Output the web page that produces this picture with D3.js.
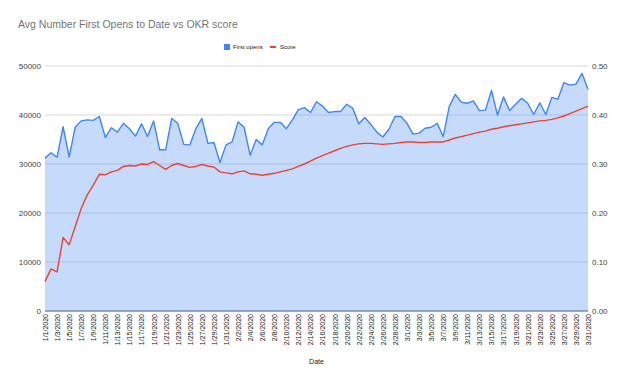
<!DOCTYPE html>
<html>
<head>
<meta charset="utf-8">
<script src="https://cdn.jsdelivr.net/npm/d3@7"></script>
<style>
  body { margin: 0; background: #fff; }
  svg { display: block; font-family: "Liberation Sans", Arial, sans-serif; }
</style>
</head>
<body>
<svg id="chart" width="631" height="378"></svg>
<script>
const SVG_WIDTH = 631;
const SVG_HEIGHT = 378;
const MARGIN = { left: 45, right: 43, top: 66, bottom: 67 };
const CHART_WIDTH = SVG_WIDTH - MARGIN.left - MARGIN.right;
const CHART_HEIGHT = SVG_HEIGHT - MARGIN.top - MARGIN.bottom;

// daily dates 1/1/2020 .. 3/31/2020
const START_DATE = new Date(2020, 0, 1);
const END_DATE = new Date(2020, 3, 1);
const dates = d3.timeDay.range(START_DATE, END_DATE);

const firstOpens = [
  31200, 32300, 31400, 37600, 31400, 37500, 38800, 39000, 38900, 39700,
  35400, 37400, 36500, 38300, 37200, 35700, 38200, 35600, 38800, 32900,
  32900, 39300, 38300, 34000, 33900, 37200, 39300, 34200, 34400, 30300,
  33900, 34500, 38600, 37500, 31800, 35000, 33900, 37200, 38500, 38500,
  37200, 39000, 41100, 41500, 40500, 42700, 41800, 40500, 40700, 40700,
  42200, 41400, 38200, 39500, 38100, 36500, 35500, 37100, 39700, 39700,
  38300, 36100, 36300, 37300, 37500, 38300, 35600, 41700, 44200, 42600,
  42400, 42900, 40900, 41000, 45000, 40000, 43700, 40900, 42200, 43400,
  42400, 40100, 42500, 40100, 43600, 43200, 46600, 46100, 46300, 48500,
  45200
];

const score = [
  0.060, 0.086, 0.080, 0.150, 0.135, 0.172, 0.209, 0.237, 0.257, 0.279,
  0.278, 0.284, 0.287, 0.295, 0.297, 0.296, 0.300, 0.299, 0.305, 0.297,
  0.289, 0.297, 0.301, 0.297, 0.293, 0.295, 0.299, 0.296, 0.294, 0.284,
  0.282, 0.280, 0.284, 0.286, 0.280, 0.279, 0.277, 0.279, 0.281, 0.284,
  0.287, 0.290, 0.295, 0.300, 0.306, 0.312, 0.317, 0.322, 0.327, 0.332,
  0.336, 0.339, 0.341, 0.342, 0.342, 0.341, 0.340, 0.341, 0.342, 0.344,
  0.345, 0.345, 0.344, 0.344, 0.345, 0.345, 0.345, 0.349, 0.353, 0.356,
  0.359, 0.362, 0.365, 0.367, 0.371, 0.373, 0.376, 0.378, 0.380, 0.382,
  0.384, 0.386, 0.388, 0.389, 0.391, 0.394, 0.398, 0.403, 0.408, 0.413,
  0.418
];

const leftTicks = [0, 10000, 20000, 30000, 40000, 50000];
const rightTicks = [0, 0.1, 0.2, 0.3, 0.4, 0.5];

const BLUE = "#4285f4";
const RED = "#ea4335";

const data = dates.map((d, i) => ({ date: d, opens: firstOpens[i], score: score[i] }));

const svg = d3.select("#chart");

const x_scale = d3.scaleTime().domain(d3.extent(dates)).range([MARGIN.left, MARGIN.left + CHART_WIDTH]);
const y_left = d3.scaleLinear().domain([0, 50000]).range([MARGIN.top + CHART_HEIGHT, MARGIN.top]);
const y_right = d3.scaleLinear().domain([0, 0.5]).range([MARGIN.top + CHART_HEIGHT, MARGIN.top]);

// title
svg.append("text")
  .attr("x", 18)
  .attr("y", 28)
  .style("font-size", "10.5px")
  .style("fill", "#757575")
  .text("Avg Number First Opens to Date vs OKR score");

// legend
const legend = svg.append("g").attr("transform", "translate(224, 47)");
legend.append("rect").attr("x", 0).attr("y", -3).attr("width", 6).attr("height", 6).attr("fill", BLUE);
legend.append("text").attr("x", 9).attr("y", 2).style("font-size", "6px").style("fill", "#222").text("First opens");
legend.append("rect").attr("x", 46).attr("y", -1).attr("width", 6).attr("height", 2).attr("fill", RED);
legend.append("text").attr("x", 56).attr("y", 2).style("font-size", "6px").style("fill", "#222").text("Score");

// gridlines
svg.append("g")
  .selectAll("line")
  .data(leftTicks)
  .join("line")
  .attr("x1", MARGIN.left)
  .attr("x2", MARGIN.left + CHART_WIDTH)
  .attr("y1", (d) => y_left(d))
  .attr("y2", (d) => y_left(d))
  .attr("stroke", (d) => (d === 0 ? "#555" : "#d9d9d9"))
  .attr("stroke-width", 1);

// area + line for first opens
const area = d3.area()
  .x((d) => x_scale(d.date))
  .y0(y_left(0))
  .y1((d) => y_left(d.opens));

svg.append("path")
  .datum(data)
  .attr("d", area)
  .attr("fill", BLUE)
  .attr("fill-opacity", 0.3);

svg.append("path")
  .datum(data)
  .attr("fill", "none")
  .attr("stroke", BLUE)
  .attr("stroke-width", 1.4)
  .attr("stroke-linejoin", "round")
  .attr("d", d3.line().x((d) => x_scale(d.date)).y((d) => y_left(d.opens)));

// score line (right axis)
svg.append("path")
  .datum(data)
  .attr("fill", "none")
  .attr("stroke", RED)
  .attr("stroke-width", 1.4)
  .attr("stroke-linejoin", "round")
  .attr("d", d3.line().x((d) => x_scale(d.date)).y((d) => y_right(d.score)));

// left axis
const y_axis_left = svg.append("g")
  .attr("transform", `translate(${MARGIN.left}, 0)`)
  .call(d3.axisLeft(y_left).tickValues(leftTicks).tickFormat(d3.format("d")).tickSize(0).tickPadding(4));
y_axis_left.select(".domain").remove();
y_axis_left.selectAll("text").style("font-size", "8px").style("fill", "#444").style("font-family", "Liberation Sans, Arial, sans-serif");

// right axis
const y_axis_right = svg.append("g")
  .attr("transform", `translate(${MARGIN.left + CHART_WIDTH}, 0)`)
  .call(d3.axisRight(y_right).tickValues(rightTicks).tickFormat(d3.format(".2f")).tickSize(0).tickPadding(4));
y_axis_right.select(".domain").remove();
y_axis_right.selectAll("text").style("font-size", "8px").style("fill", "#444").style("font-family", "Liberation Sans, Arial, sans-serif");

// x axis - every second day
const formatDate = (d) => `${d.getMonth() + 1}/${d.getDate()}/${d.getFullYear()}`;
const xTickValues = dates.filter((d, i) => i % 2 === 0);
const x_axis = svg.append("g")
  .attr("transform", `translate(0, ${MARGIN.top + CHART_HEIGHT})`)
  .call(d3.axisBottom(x_scale).tickValues(xTickValues).tickFormat(formatDate).tickSize(0));
x_axis.select(".domain").remove();
x_axis.selectAll("text")
  .attr("transform", "rotate(-90)")
  .attr("text-anchor", "end")
  .attr("x", -3)
  .attr("y", 0)
  .attr("dy", "0.35em")
  .style("font-size", "7px")
  .style("fill", "#222")
  .style("font-family", "Liberation Sans, Arial, sans-serif");

// x axis label
svg.append("text")
  .attr("x", (MARGIN.left + MARGIN.left + CHART_WIDTH) / 2)
  .attr("y", 364)
  .attr("text-anchor", "middle")
  .style("font-size", "7px")
  .style("fill", "#222")
  .text("Date");
</script>
</body>
</html>
